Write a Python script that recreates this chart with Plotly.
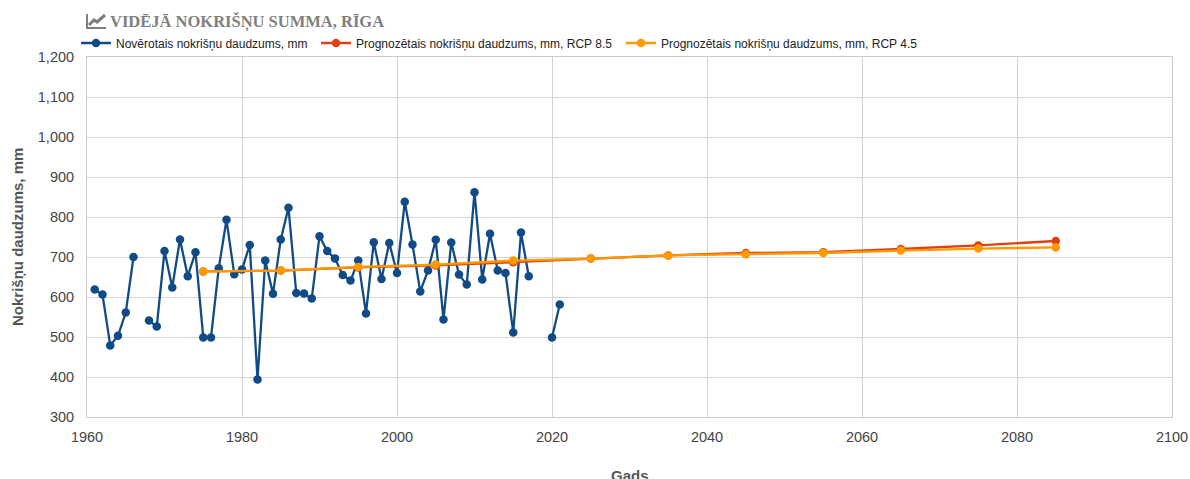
import plotly.graph_objects as go

obs_years = [1961,1962,1963,1964,1965,1966,1967,1968,1969,1970,1971,1972,1973,1974,1975,1976,1977,1978,1979,1980,
             1981,1982,1983,1984,1985,1986,1987,1988,1989,1990,1991,1992,1993,1994,1995,1996,1997,1998,1999,2000,
             2001,2002,2003,2004,2005,2006,2007,2008,2009,2010,2011,2012,2013,2014,2015,2016,2017,2018,2019,2020,2021]
obs_values = [619,606,479,503,561,700,None,541,526,715,624,744,652,712,499,499,672,793,657,669,
              730,394,691,608,744,823,610,609,596,752,715,696,655,641,691,559,737,645,735,660,
              838,731,614,666,743,544,736,656,631,862,644,758,666,660,511,761,652,None,None,499,581]
proj_years = [1975,1985,1995,2005,2015,2025,2035,2045,2055,2065,2075,2085]
rcp85_values = [664,666,674,679,687,696,704,710,712,720,729,740]
rcp45_values = [664,666,675,681,691,696,704,707,710,716,721,724]
y_ticks = [300,400,500,600,700,800,900,1000,1100,1200]
x_ticks = [1960,1980,2000,2020,2040,2060,2080,2100]

TITLE = "VIDĒJĀ NOKRIŠŅU SUMMA, RĪGA"
OBS_NAME = "Novērotais nokrišņu daudzums, mm"
R85_NAME = "Prognozētais nokrišņu daudzums, mm, RCP 8.5"
R45_NAME = "Prognozētais nokrišņu daudzums, mm, RCP 4.5"

BLUE, RED, ORANGE = "#114b86", "#e0400f", "#ff9900"
W, H = 1190, 479
L, R, T, B = 87, 1172, 57, 417

fig = go.Figure()
for name, xs, ys, col, lg in [(OBS_NAME, obs_years, obs_values, BLUE, "legend"),
                              (R85_NAME, proj_years, rcp85_values, RED, "legend2"),
                              (R45_NAME, proj_years, rcp45_values, ORANGE, "legend3")]:
    fig.add_trace(go.Scatter(x=xs, y=ys, name=name, mode="lines+markers", legend=lg,
                             line=dict(color=col, width=2.3),
                             marker=dict(color=col, size=8.5),
                             connectgaps=False, cliponaxis=False))

grid = dict(showgrid=True, gridcolor="#d4d4d4", gridwidth=1, zeroline=False, automargin=False,
            showline=True, linecolor="#cccccc", linewidth=1, mirror=True, ticks="",
            tickfont=dict(family="Liberation Sans", size=14.5, color="#444444"))
fig.update_xaxes(range=[1960, 2100], tickvals=x_ticks, ticktext=[str(v) for v in x_ticks],
                 ticklabelstandoff=7, **grid)
fig.update_yaxes(range=[300, 1200], tickvals=y_ticks, tickformat=",d", ticklabelstandoff=9, **grid)

axis_font = dict(family="Liberation Sans", size=15, color="#555555")
fig.add_annotation(text="<b>Gads</b>", xref="paper", yref="paper", x=(630 - L) / (R - L), y=-(475 - B) / (B - T),
                   showarrow=False, font=axis_font, xanchor="center", yanchor="middle")
fig.add_annotation(text="<b>Nokrišņu daudzums, mm</b>", xref="paper", yref="paper",
                   x=-(L - 17) / (R - L), y=0.5, textangle=-90, showarrow=False, font=axis_font,
                   xanchor="center", yanchor="middle")
fig.add_annotation(text="<b>" + TITLE + "</b>", xref="paper", yref="paper",
                   x=(108 - L) / (R - L), y=1 + (T - 22) / (B - T), showarrow=False,
                   xanchor="left", yanchor="middle",
                   font=dict(family="Liberation Serif", size=16.5, color="#7f7f7f"))

def px(x): return (x - L) / (R - L)
def py(y): return 1 - (y - T) / (B - T)
icon = f"M {px(87)} {py(14)} L {px(87)} {py(28)} L {px(106)} {py(28)}"
icon2 = f"M {px(89)} {py(25)} L {px(94)} {py(20)} L {px(97)} {py(22)} L {px(105)} {py(15)}"
for p in (icon, icon2):
    fig.add_shape(type="path", path=p, xref="paper", yref="paper",
                  line=dict(color="#7f7f7f", width=3 if p == icon2 else 2))

def legend_at(x_px):
    return dict(orientation="h", xref="container", yref="container", x=x_px / W, xanchor="left",
                y=1 - 43 / H, yanchor="middle",
                font=dict(family="Liberation Sans", size=12, color="#222222"),
                itemwidth=30, bgcolor="rgba(0,0,0,0)")

fig.update_layout(
    width=W, height=H, autosize=False,
    margin=dict(l=L, r=W - R, t=T, b=H - B, autoexpand=False),
    plot_bgcolor="white", paper_bgcolor="white",
    showlegend=True,
    legend=legend_at(76), legend2=legend_at(316), legend3=legend_at(621),
)
fig.write_html("out.html", post_script="document.body.style.margin='0';", config={"displayModeBar": False})
